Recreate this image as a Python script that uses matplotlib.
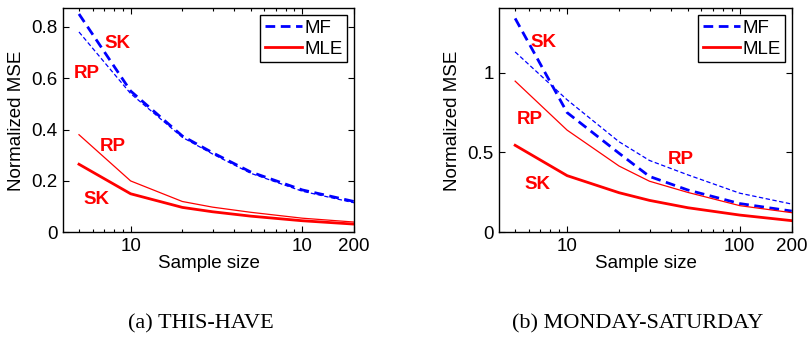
import matplotlib
matplotlib.use("Agg")
import matplotlib.pyplot as plt
from matplotlib.ticker import FixedLocator, FixedFormatter, LogLocator, NullFormatter

plt.rcParams["font.family"] = ["Liberation Sans", "DejaVu Sans"]

# sample sizes
sizes = [5, 10, 20, 30, 50, 100, 200]

# (a) THIS-HAVE
a_mf_sk = [0.85, 0.55, 0.375, 0.31, 0.235, 0.165, 0.12]
a_mf_rp = [0.78, 0.54, 0.37, 0.305, 0.23, 0.16, 0.115]
a_mle_rp = [0.38, 0.20, 0.12, 0.098, 0.078, 0.055, 0.04]
a_mle_sk = [0.265, 0.15, 0.097, 0.08, 0.063, 0.045, 0.032]

# (b) MONDAY-SATURDAY
b_mf_sk = [1.34, 0.75, 0.495, 0.35, 0.265, 0.18, 0.133]
b_mf_rp = [1.13, 0.83, 0.567, 0.45, 0.36, 0.245, 0.177]
b_mle_rp = [0.947, 0.64, 0.415, 0.32, 0.25, 0.167, 0.123]
b_mle_sk = [0.545, 0.355, 0.248, 0.2, 0.154, 0.108, 0.073]

panels = [
    dict(mf_sk=a_mf_sk, mf_rp=a_mf_rp, mle_rp=a_mle_rp, mle_sk=a_mle_sk,
         ylim=0.872, yticks=[0, 0.2, 0.4, 0.6, 0.8],
         ylabels=["0", "0.2", "0.4", "0.6", "0.8"],
         xlabels=["10", "10", "200"],
         notes=[("SK", 8.35, 0.735), ("RP", 5.55, 0.619),
                ("RP", 7.86, 0.333), ("SK", 6.35, 0.126)],
         caption="(a) THIS-HAVE", pos=[0.0783, 0.3227, 0.3598, 0.653]),
    dict(mf_sk=b_mf_sk, mf_rp=b_mf_rp, mle_rp=b_mle_rp, mle_sk=b_mle_sk,
         ylim=1.403, yticks=[0, 0.5, 1], ylabels=["0", "0.5", "1"],
         xlabels=["10", "100", "200"],
         notes=[("SK", 7.26, 1.187), ("RP", 6.07, 0.709),
                ("RP", 45.3, 0.457), ("SK", 6.74, 0.302)],
         caption="(b) MONDAY-SATURDAY", pos=[0.618, 0.3227, 0.3619, 0.653]),
]

fig = plt.figure(figsize=(8.08, 3.43), dpi=100)

for p in panels:
    ax = fig.add_axes(p["pos"])
    ax.set_xscale("log")
    mf_dash = (0, (3.5, 2))
    ax.plot(sizes, p["mf_sk"], color="blue", lw=2.0, ls=mf_dash, label="MF")
    ax.plot(sizes, p["mf_rp"], color="blue", lw=0.9, ls=mf_dash)
    ax.plot(sizes, p["mle_rp"], color="red", lw=0.9)
    ax.plot(sizes, p["mle_sk"], color="red", lw=2.0, label="MLE")

    for txt, x, y in p["notes"]:
        ax.text(x, y, txt, color="red", fontsize=13.5, fontweight="bold",
                ha="center", va="center")

    ax.set_xlim(4.05, 200)
    ax.set_ylim(0, p["ylim"])
    ax.xaxis.set_major_locator(FixedLocator([10, 100, 200]))
    ax.xaxis.set_major_formatter(FixedFormatter(p["xlabels"]))
    ax.xaxis.set_minor_locator(LogLocator(base=10, subs=range(2, 10)))
    ax.xaxis.set_minor_formatter(NullFormatter())
    ax.yaxis.set_major_locator(FixedLocator(p["yticks"]))
    ax.yaxis.set_major_formatter(FixedFormatter(p["ylabels"]))
    ax.tick_params(which="both", direction="in", top=True, right=True,
                   labelsize=13.5, width=0.8, pad=4)
    ax.tick_params(which="major", length=4)
    ax.tick_params(which="minor", length=2)
    for s in ax.spines.values():
        s.set_linewidth(1.0)

    ax.set_xlabel("Sample size", fontsize=13.5, labelpad=0)
    ax.set_ylabel("Normalized MSE", fontsize=13.5, labelpad=5)

    leg = ax.legend(loc="upper right", fontsize=13.5, handlelength=2.0,
                    handletextpad=0.1, borderpad=0.25, labelspacing=0.2,
                    borderaxespad=0.35, fancybox=False, framealpha=1)
    leg.get_frame().set_edgecolor("black")
    leg.get_frame().set_linewidth(1.0)

    x0, _, w, _ = p["pos"]
    fig.text(x0 + w / 2 - 0.01, 0.055, p["caption"], ha="center", va="center",
             fontsize=16, family=["Liberation Serif", "DejaVu Serif"])

fig.savefig("out.png", dpi=100)
